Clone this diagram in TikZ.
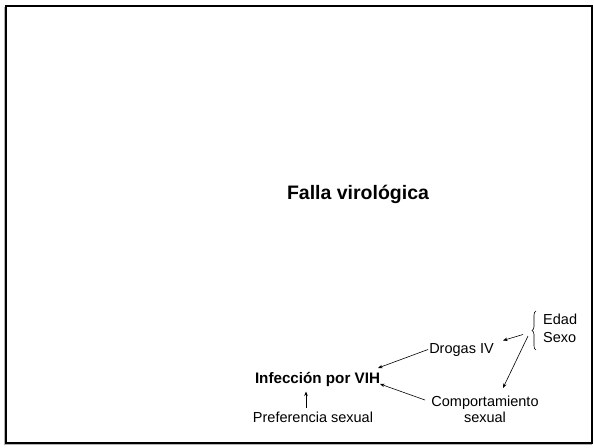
\documentclass[tikz,border=0pt]{standalone}
\usepackage{fontspec}
\setmainfont{Liberation Sans}
\usetikzlibrary{arrows.meta,decorations.pathreplacing}
\begin{document}
\begin{tikzpicture}[x=1pt,y=-1pt,
  lbl/.style={inner sep=0pt,font=\fontsize{14.5}{16}\selectfont,anchor=base},
  arr/.style={line width=0.6pt,-{Stealth[length=4.5pt,width=3.5pt]}}]
\useasboundingbox (0,0) rectangle (594,447);
\fill[white] (0,0) rectangle (594,447);
\draw[gray!60,line width=1pt] (4.5,7) -- (4.5,444.5) -- (592,444.5);
\draw[line width=2pt] (6,6) rectangle (592,443);
\node[lbl,font=\bfseries\fontsize{19.5}{22}\selectfont] (falla) at (358,199) {Falla virológica};
\node[lbl,font=\bfseries\fontsize{15.2}{17}\selectfont] (inf) at (317.5,383) {Infección por VIH};
\node[lbl] (pref) at (313,422) {Preferencia sexual};
\node[lbl] (drogas) at (461.5,353) {Drogas IV};
\node[lbl,align=center,anchor=north] (comp) at (485,396) {Comportamiento\\[0pt]sexual};
\node[lbl,align=left,anchor=north west,font=\fontsize{14.5}{18.5}\selectfont] (edad) at (543,313.5) {Edad\\Sexo};
\draw[decorate,decoration={brace,amplitude=4pt},line width=0.6pt] (536,350) -- (536,311);
\coordinate (bt1) at (523,334.5);
\coordinate (bt2) at (528,336);
\coordinate (dr) at (503,340.5);
\coordinate (cp) at (503,388);
\coordinate (dl) at (428,349.5);
\coordinate (infa) at (378,368);
\coordinate (cl) at (425,400);
\coordinate (infb) at (380,384);
\coordinate (pt) at (306,408);
\coordinate (pb) at (306,391.5);
\draw[arr] (bt1) -- (dr);
\draw[arr] (bt2) -- (cp);
\draw[arr] (dl) -- (infa);
\draw[arr] (cl) -- (infb);
\draw[arr] (pt) -- (pb);
\end{tikzpicture}
\end{document}
